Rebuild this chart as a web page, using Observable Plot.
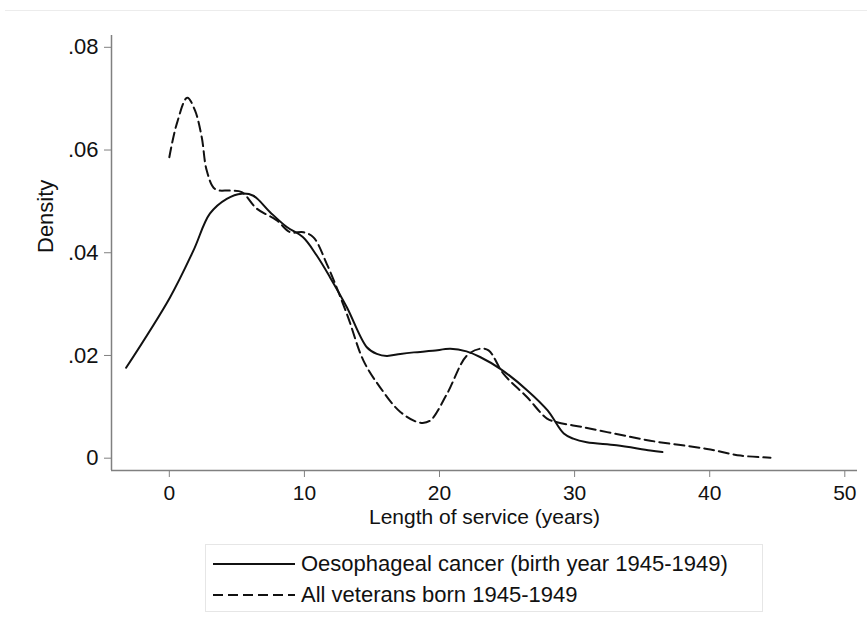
<!DOCTYPE html>
<html>
<head>
<meta charset="utf-8">
<script src="https://cdn.jsdelivr.net/npm/d3@7"></script>
<script src="https://cdn.jsdelivr.net/npm/@observablehq/plot@0.6"></script>
<style>
  html, body { margin: 0; padding: 0; background: #fff; }
  body { width: 867px; height: 634px; position: relative; overflow: hidden; font-family: "Liberation Sans", Arial, sans-serif; }
  #topline { position: absolute; left: 5px; right: 0; top: 10px; height: 0; border-top: 1px solid #ececec; }
  #chart { position: absolute; left: 0; top: 0; }
  #legend { position: absolute; left: 205px; top: 544px; width: 558px; height: 68px; border: 1px solid #e6e6e6; box-sizing: border-box; }
  .row { position: absolute; left: 7px; display: flex; align-items: center; font-size: 22px; color: #111; white-space: nowrap; }
  .row svg { margin-right: 6px; }
</style>
</head>
<body>
<div id="topline"></div>
<div id="chart"></div>
<div id="legend"></div>
<script>
// Oesophageal cancer (birth year 1945-1949) — solid line
const solidX = [-3.2, 0.05, 1.78, 3.0, 4.25, 5.36, 6.22, 7.46, 8.7, 9.9, 10.9, 11.9, 13.14, 14.62, 15.36, 16.1, 17.1, 18.1, 19.5, 20.8, 22.0, 23.0, 24.5, 26.5, 28.0, 29.2, 29.9, 30.9, 33.1, 35.6, 36.5];
const solidY = [0.0176, 0.0313, 0.0404, 0.0476, 0.0505, 0.0515, 0.0511, 0.0479, 0.0450, 0.0430, 0.0395, 0.0352, 0.0294, 0.0216, 0.0203, 0.0199, 0.0203, 0.0206, 0.0209, 0.0213, 0.0208, 0.0197, 0.0174, 0.0132, 0.0093, 0.0048, 0.0038, 0.0031, 0.0025, 0.0015, 0.0012];
// All veterans born 1945-1949 — dashed line
const dashX = [0, 0.55, 1.33, 1.9, 2.4, 2.77, 3.39, 4.5, 5.36, 6.47, 7.96, 8.94, 9.93, 10.67, 11.66, 13.14, 14.37, 15.6, 17.1, 18.57, 19.3, 20.55, 22.0, 23.0, 23.63, 24.74, 26.47, 27.96, 28.7, 30.67, 33.1, 35.6, 39.8, 42.3, 44.5];
const dashY = [0.0586, 0.0651, 0.0702, 0.0677, 0.0625, 0.0560, 0.0524, 0.0521, 0.0518, 0.0486, 0.0463, 0.0440, 0.0440, 0.0430, 0.0378, 0.0281, 0.0190, 0.0138, 0.0090, 0.0069, 0.0073, 0.0125, 0.0199, 0.0213, 0.0210, 0.0164, 0.0119, 0.0077, 0.0070, 0.0060, 0.0047, 0.0034, 0.0018, 0.0005, 0.0001];

const seriesNames = ["Oesophageal cancer (birth year 1945-1949)", "All veterans born 1945-1949"];
const xTicks = [0, 10, 20, 30, 40, 50];
const yTicks = [0, 0.02, 0.04, 0.06, 0.08];
const xTitle = "Length of service (years)";
const yTitle = "Density";
const xDomain = [-4.28, 50.94];
const yDomain = [-0.0024, 0.0823];

const solid = solidX.map((x, i) => ({x, y: solidY[i]}));
const dashed = dashX.map((x, i) => ({x, y: dashY[i]}));
const fmtY = v => v === 0 ? "0" : d3.format(".2f")(v).replace(/^0/, "");

const plot = Plot.plot({
  width: 867,
  height: 535,
  marginLeft: 111,
  marginRight: 10,
  marginTop: 35,
  marginBottom: 65,
  style: {fontFamily: "'Liberation Sans', Arial, sans-serif", fontSize: "22px", background: "transparent", color: "#111"},
  x: {domain: xDomain},
  y: {domain: yDomain},
  marks: [
    Plot.ruleX([xDomain[0]], {stroke: "#808080", strokeWidth: 1.5}),
    Plot.ruleY([yDomain[0]], {stroke: "#808080", strokeWidth: 1.5}),
    Plot.axisX({ticks: xTicks, tickFormat: d => String(d), tickSize: 7, tickPadding: 8, stroke: "#808080", fill: "#111", fontSize: 21, label: null}),
    Plot.axisY({ticks: yTicks, tickFormat: fmtY, tickSize: 7, tickPadding: 6, stroke: "#808080", fill: "#111", fontSize: 22, label: null}),
    Plot.text([xTitle], {frameAnchor: "bottom", dy: 53, fontSize: 21, fill: "#111"}),
    Plot.text([yTitle], {frameAnchor: "left", dx: -66, rotate: -90, fontSize: 22, fill: "#111"}),
    Plot.line(solid, {x: "x", y: "y", curve: "catmull-rom", stroke: "#111", strokeWidth: 2}),
    Plot.line(dashed, {x: "x", y: "y", curve: "catmull-rom", stroke: "#111", strokeWidth: 2, strokeDasharray: "10,5"})
  ]
});
document.getElementById("chart").appendChild(plot);

const legend = document.getElementById("legend");
const dashes = ["none", "10,5"];
const rowTops = [6, 37];
seriesNames.forEach((name, i) => {
  const row = document.createElement("div");
  row.className = "row";
  row.style.top = rowTops[i] + "px";
  row.innerHTML = `<svg width="82" height="26"><line x1="0" x2="82" y1="13" y2="13" stroke="#111" stroke-width="2" stroke-dasharray="${dashes[i]}"></line></svg><span>${name}</span>`;
  legend.appendChild(row);
});
</script>
</body>
</html>
